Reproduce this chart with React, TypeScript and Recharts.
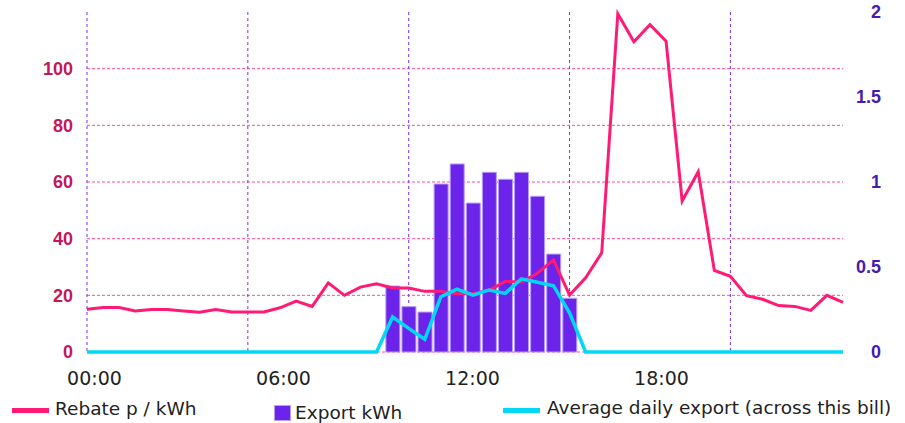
import {
	Bar,
	CartesianGrid,
	ComposedChart,
	Legend,
	Line,
	XAxis,
	YAxis,
} from 'recharts';

const slots = [
	'00:00', '00:30', '01:00', '01:30', '02:00', '02:30', '03:00', '03:30',
	'04:00', '04:30', '05:00', '05:30', '06:00', '06:30', '07:00', '07:30',
	'08:00', '08:30', '09:00', '09:30', '10:00', '10:30', '11:00', '11:30',
	'12:00', '12:30', '13:00', '13:30', '14:00', '14:30', '15:00', '15:30',
	'16:00', '16:30', '17:00', '17:30', '18:00', '18:30', '19:00', '19:30',
	'20:00', '20:30', '21:00', '21:30', '22:00', '22:30', '23:00', '23:30',
];

// p / kWh
const rebate = [
	15.1, 15.7, 15.7, 14.5, 15.0, 15.0, 14.5, 14.0, 15.0, 14.1, 14.1, 14.1,
	15.6, 18.0, 16.1, 24.4, 20.0, 22.9, 24.1, 22.6, 22.6, 21.4, 21.4, 20.6,
	20.6, 21.8, 24.9, 24.7, 27.8, 32.5, 20.1, 26.2, 35.0, 119.4, 109.5, 115.5,
	109.7, 53.3, 63.6, 28.8, 26.7, 19.9, 18.6, 16.4, 16.1, 14.7, 20.0, 17.5,
];

// kWh
const exported = [
	0, 0, 0, 0, 0, 0, 0, 0, 0, 0, 0, 0,
	0, 0, 0, 0, 0, 0, 0, 0.388, 0.267, 0.235, 0.988, 1.106,
	0.876, 1.057, 1.016, 1.057, 0.916, 0.576, 0.316, 0, 0, 0, 0, 0,
	0, 0, 0, 0, 0, 0, 0, 0, 0, 0, 0, 0,
];

const avgExport = [
	0, 0, 0, 0, 0, 0, 0, 0, 0, 0, 0, 0,
	0, 0, 0, 0, 0, 0, 0, 0.206, 0.139, 0.075, 0.325, 0.37,
	0.335, 0.365, 0.345, 0.43, 0.41, 0.39, 0.23, 0, 0, 0, 0, 0,
	0, 0, 0, 0, 0, 0, 0, 0, 0, 0, 0, 0,
];

const gridSlots = [0, 10, 20, 30, 40];
const hourTicks = [0, 6, 12, 18];
const rebateTicks = [0, 20, 40, 60, 80, 100];
const kwhTicks = [0, 0.5, 1, 1.5, 2];

const PINK = '#ff1a75';
const CYAN = '#00d8f5';
const PURPLE = '#6d24ea';
const FONT = '"DejaVu Sans", sans-serif';
const NUM_FONT = '"Liberation Sans", Arial, sans-serif';

const data = slots.map((time, i) => {
	const [hh, mm] = time.split(':').map(Number);
	return {
		i,
		hour: hh + mm / 60,
		rebate: rebate[i],
		exported: exported[i],
		avgExport: avgExport[i],
	};
});

const legendText = {
	position: 'absolute' as const,
	fontFamily: FONT,
	fontSize: 18.5,
	lineHeight: 1,
	color: '#222',
	whiteSpace: 'nowrap' as const,
};

function ChartLegend() {
	return (
		<div style={{ position: 'relative', width: 905, height: 35 }}>
			<div style={{ position: 'absolute', left: 12, top: 20, width: 37, height: 5, background: PINK }} />
			<span style={{ ...legendText, left: 55, top: 12 }}>Rebate p / kWh</span>
			<div
				style={{
					position: 'absolute',
					left: 274,
					top: 17,
					width: 15,
					height: 14,
					background: PURPLE,
					border: '1px solid #b89cf6',
				}}
			/>
			<span style={{ ...legendText, left: 295, top: 16 }}>Export kWh</span>
			<div style={{ position: 'absolute', left: 503, top: 20, width: 37, height: 5, background: CYAN }} />
			<span style={{ ...legendText, left: 547, top: 11 }}>
				Average daily export (across this bill)
			</span>
		</div>
	);
}

export default function App() {
	return (
		<div style={{ position: 'absolute', left: 0, top: 0, width: 905, height: 423 }}>
			<ComposedChart
				data={data}
				width={905}
				height={423}
				margin={{ top: 12, right: 0, bottom: 0, left: 0 }}
				barCategoryGap="8%"
			>
				<CartesianGrid
					xAxisId="slot"
					yAxisId="p"
					vertical={false}
					syncWithTicks
					stroke="#ff4d94"
					strokeDasharray="3 2"
				/>
				<CartesianGrid
					xAxisId="slot"
					yAxisId="p"
					horizontal={false}
					syncWithTicks
					stroke="#7a2ff0"
					strokeDasharray="3 3"
				/>
				<XAxis
					xAxisId="slot"
					dataKey="i"
					type="number"
					domain={[0, 47]}
					ticks={gridSlots}
					hide
				/>
				<XAxis
					xAxisId="clock"
					dataKey="hour"
					type="number"
					domain={[0, 24]}
					allowDataOverflow
					ticks={hourTicks}
					tickFormatter={(h: number) => `${String(h).padStart(2, '0')}:00`}
					height={36}
					axisLine={false}
					tickLine={false}
					tickMargin={14}
					tick={{ fill: '#222', fontSize: 19, fontFamily: FONT, dx: 7.5 }}
				/>
				<YAxis
					yAxisId="p"
					domain={[0, 120]}
					ticks={rebateTicks}
					width={87}
					axisLine={false}
					tickLine={false}
					tickMargin={8}
					tick={{ fill: '#c2185b', fontSize: 18, fontWeight: 700, fontFamily: NUM_FONT }}
				/>
				<YAxis
					yAxisId="kwh"
					orientation="right"
					domain={[0, 2]}
					ticks={kwhTicks}
					width={62}
					axisLine={false}
					tickLine={false}
					tickMargin={32}
					tick={{
						fill: '#4a1ab0',
						fontSize: 18,
						fontWeight: 700,
						fontFamily: NUM_FONT,
						textAnchor: 'end',
					}}
				/>
				<Legend
					verticalAlign="bottom"
					content={() => <ChartLegend />}
					wrapperStyle={{ left: 0, bottom: 0, width: 905, height: 35 }}
				/>
				<Bar
					xAxisId="slot"
					yAxisId="kwh"
					dataKey="exported"
					fill={PURPLE}
					stroke="#b89cf6"
					strokeWidth={1}
					isAnimationActive={false}
				/>
				<Line
					xAxisId="slot"
					yAxisId="p"
					dataKey="rebate"
					type="linear"
					stroke={PINK}
					strokeWidth={3}
					dot={false}
					activeDot={false}
					isAnimationActive={false}
				/>
				<Line
					xAxisId="slot"
					yAxisId="kwh"
					dataKey="avgExport"
					type="linear"
					stroke={CYAN}
					strokeWidth={3.5}
					dot={false}
					activeDot={false}
					isAnimationActive={false}
				/>
			</ComposedChart>
		</div>
	);
}
